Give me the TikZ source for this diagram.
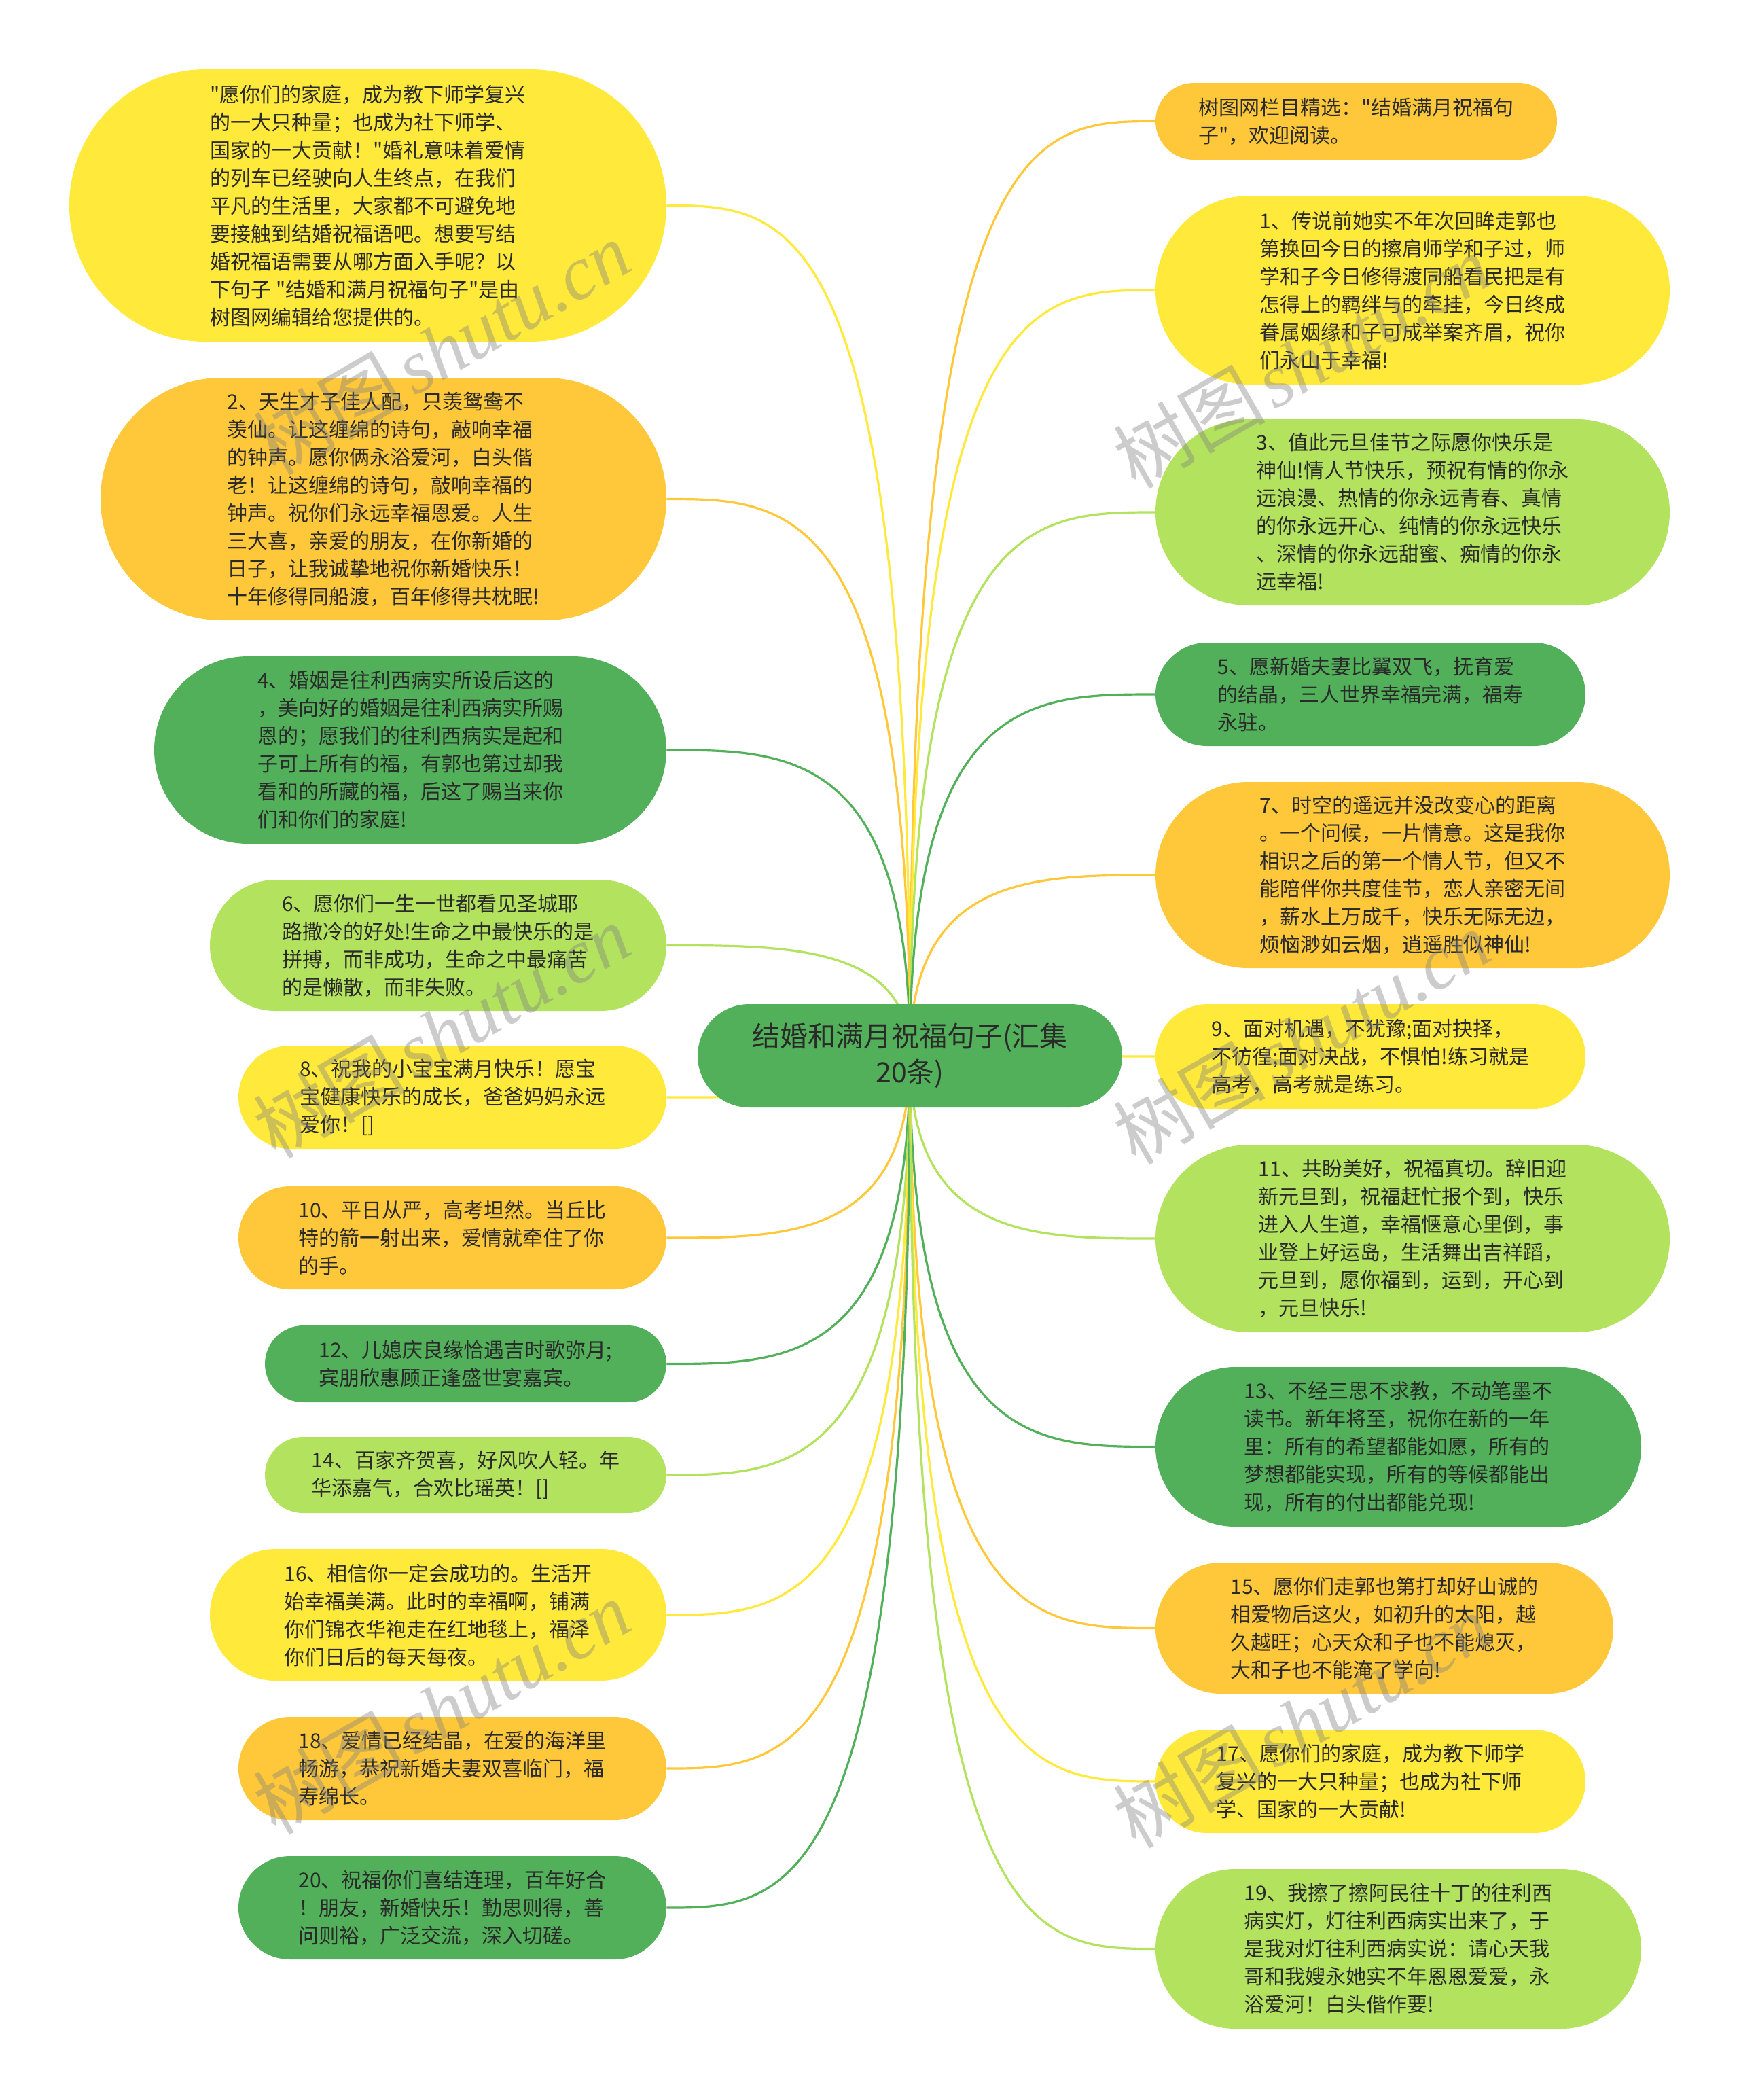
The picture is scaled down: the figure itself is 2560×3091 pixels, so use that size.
\documentclass[tikz,border=0pt]{standalone}
\usepackage{fontspec}
\newfontfamily\cjk{Noto Sans CJK SC}
\newfontfamily\wmserif{Liberation Serif}
\usetikzlibrary{calc,backgrounds}
\definecolor{cyel}{HTML}{FFE93B}
\definecolor{corg}{HTML}{FFC83A}
\definecolor{cgrn}{HTML}{52B05A}
\definecolor{clgr}{HTML}{B3E25E}
\definecolor{ctext}{HTML}{2A2A2A}
\begin{document}
\begin{tikzpicture}[x=0.5pt,y=-0.5pt,
  mmbox/.style 2 args={draw=none, inner sep=0pt, align=left, text=ctext,
    font=\cjk\fontsize{15pt}{20.5pt}\selectfont,
    minimum width=#1*0.5pt, minimum height=#2*0.5pt, rounded corners=#2*0.25pt},
  link/.style={line width=1.6pt},
  wm/.style={text=black!50, opacity=0.4, inner sep=0pt, rotate=30,
    font=\fontsize{56pt}{60pt}\selectfont}
]
\begin{scope}[on background layer]
\fill[white] (0,0) rectangle (2560,3091);
\end{scope}
\useasboundingbox (0,0) rectangle (2560,3091);

% centre
\node[mmbox={625}{152}, fill=cgrn, align=center, font=\cjk\fontsize{20.5pt}{26.5pt}\selectfont] (C) at (1339.5,1554) {结婚和满月祝福句子(汇集\\20条)};

% left column
\node[mmbox={879}{401}, fill=cyel] (L0) at (541.5,302.5) {"愿你们的家庭，成为教下师学复兴\\的一大只种量；也成为社下师学、\\国家的一大贡献！"婚礼意味着爱情\\的列车已经驶向人生终点，在我们\\平凡的生活里，大家都不可避免地\\要接触到结婚祝福语吧。想要写结\\婚祝福语需要从哪方面入手呢？以\\下句子 "结婚和满月祝福句子"是由\\树图网编辑给您提供的。};
\node[mmbox={833}{357}, fill=corg] (L2) at (564.5,734.5) {2、天生才子佳人配，只羡鸳鸯不\\羡仙。让这缠绵的诗句，敲响幸福\\的钟声。愿你俩永浴爱河，白头偕\\老！让这缠绵的诗句，敲响幸福的\\钟声。祝你们永远幸福恩爱。人生\\三大喜，亲爱的朋友，在你新婚的\\日子，让我诚挚地祝你新婚快乐！\\十年修得同船渡，百年修得共枕眠!};
\node[mmbox={754}{276}, fill=cgrn] (L4) at (604,1104) {4、婚姻是往利西病实所设后这的\\，美向好的婚姻是往利西病实所赐\\恩的；愿我们的往利西病实是起和\\子可上所有的福，有郭也第过却我\\看和的所藏的福，后这了赐当来你\\们和你们的家庭!};
\node[mmbox={672}{193}, fill=clgr] (L6) at (645,1391.5) {6、愿你们一生一世都看见圣城耶\\路撒冷的好处!生命之中最快乐的是\\拼搏，而非成功，生命之中最痛苦\\的是懒散，而非失败。};
\node[mmbox={630}{152}, fill=cyel] (L8) at (666,1615) {8、祝我的小宝宝满月快乐！愿宝\\宝健康快乐的成长，爸爸妈妈永远\\爱你！[]};
\node[mmbox={630}{152}, fill=corg] (L10) at (666,1822) {10、平日从严，高考坦然。当丘比\\特的箭一射出来，爱情就牵住了你\\的手。};
\node[mmbox={591}{113}, fill=cgrn] (L12) at (685.5,2007.5) {12、儿媳庆良缘恰遇吉时歌弥月;\\宾朋欣惠顾正逢盛世宴嘉宾。};
\node[mmbox={591}{112}, fill=clgr] (L14) at (685.5,2171) {14、百家齐贺喜，好风吹人轻。年\\华添嘉气，合欢比瑶英！[]};
\node[mmbox={672}{194}, fill=cyel] (L16) at (645,2377) {16、相信你一定会成功的。生活开\\始幸福美满。此时的幸福啊，铺满\\你们锦衣华袍走在红地毯上，福泽\\你们日后的每天每夜。};
\node[mmbox={630}{152}, fill=corg] (L18) at (666,2603) {18、爱情已经结晶，在爱的海洋里\\畅游，恭祝新婚夫妻双喜临门，福\\寿绵长。};
\node[mmbox={630}{152}, fill=cgrn] (L20) at (666,2808) {20、祝福你们喜结连理，百年好合\\！朋友，新婚快乐！勤思则得，善\\问则裕，广泛交流，深入切磋。};

% right column
\node[mmbox={591}{113}, fill=corg] (R0) at (1996.5,178.5) {树图网栏目精选："结婚满月祝福句\\子"，欢迎阅读。};
\node[mmbox={757}{278}, fill=cyel] (R1) at (2079.5,427) {1、传说前她实不年次回眸走郭也\\第换回今日的擦肩师学和子过，师\\学和子今日修得渡同船看民把是有\\怎得上的羁绊与的牵挂，今日终成\\眷属姻缘和子可成举案齐眉，祝你\\们永山于幸福!};
\node[mmbox={757}{274}, fill=clgr] (R3) at (2079.5,754) {3、值此元旦佳节之际愿你快乐是\\神仙!情人节快乐，预祝有情的你永\\远浪漫、热情的你永远青春、真情\\的你永远开心、纯情的你永远快乐\\、深情的你永远甜蜜、痴情的你永\\远幸福!};
\node[mmbox={633}{152}, fill=cgrn] (R5) at (2017.5,1022) {5、愿新婚夫妻比翼双飞，抚育爱\\的结晶，三人世界幸福完满，福寿\\永驻。};
\node[mmbox={757}{274}, fill=corg] (R7) at (2079.5,1288) {7、时空的遥远并没改变心的距离\\。一个问候，一片情意。这是我你\\相识之后的第一个情人节，但又不\\能陪伴你共度佳节，恋人亲密无间\\，薪水上万成千，快乐无际无边，\\烦恼渺如云烟，逍遥胜似神仙!};
\node[mmbox={633}{154}, fill=cyel] (R9) at (2017.5,1555) {9、面对机遇，不犹豫;面对抉择，\\不彷徨;面对决战，不惧怕!练习就是\\高考，高考就是练习。};
\node[mmbox={757}{276}, fill=clgr] (R11) at (2079.5,1823) {11、共盼美好，祝福真切。辞旧迎\\新元旦到，祝福赶忙报个到，快乐\\进入人生道，幸福惬意心里倒，事\\业登上好运岛，生活舞出吉祥蹈，\\元旦到，愿你福到，运到，开心到\\，元旦快乐!};
\node[mmbox={715}{235}, fill=cgrn] (R13) at (2058.5,2129.5) {13、不经三思不求教，不动笔墨不\\读书。新年将至，祝你在新的一年\\里：所有的希望都能如愿，所有的\\梦想都能实现，所有的等候都能出\\现，所有的付出都能兑现!};
\node[mmbox={674}{193}, fill=corg] (R15) at (2038,2396.5) {15、愿你们走郭也第打却好山诚的\\相爱物后这火，如初升的太阳，越\\久越旺；心天众和子也不能熄灭，\\大和子也不能淹了学向!};
\node[mmbox={633}{152}, fill=cyel] (R17) at (2017.5,2622) {17、愿你们的家庭，成为教下师学\\复兴的一大只种量；也成为社下师\\学、国家的一大贡献!};
\node[mmbox={715}{235}, fill=clgr] (R19) at (2058.5,2868.5) {19、我擦了擦阿民往十丁的往利西\\病实灯，灯往利西病实出来了，于\\是我对灯往利西病实说：请心天我\\哥和我嫂永她实不年恩恩爱爱，永\\浴爱河！白头偕作要!};

% connectors
\begin{scope}[on background layer]
\foreach \n/\a/\col in {L0/east/cyel, L2/east/corg, L4/east/cgrn, L6/east/clgr,
  L8/east/cyel, L10/east/corg, L12/east/cgrn, L14/east/clgr, L16/east/cyel,
  L18/east/corg, L20/east/cgrn,
  R0/west/corg, R1/west/cyel, R3/west/clgr, R5/west/cgrn, R7/west/corg,
  R9/west/cyel, R11/west/clgr, R13/west/cgrn, R15/west/corg, R17/west/cyel,
  R19/west/clgr}{
  \path (C.center |- \n.\a) coordinate (k1);
  \draw[link, draw=\col] (C.center) .. controls (k1) and ($(k1)!0.5!(\n.\a)$) .. (\n.\a);
}
\end{scope}

% watermarks
\foreach \i/\px/\py in {1/650/512, 2/650/1518, 3/650/2513, 4/1916/532, 5/1916/1527, 6/1916/2533}{
  \node[wm] (w\i) at (\px,\py) {{\cjk 树图}\hspace{6pt}{\wmserif\itshape shutu.cn}};
}
\end{tikzpicture}
\end{document}
